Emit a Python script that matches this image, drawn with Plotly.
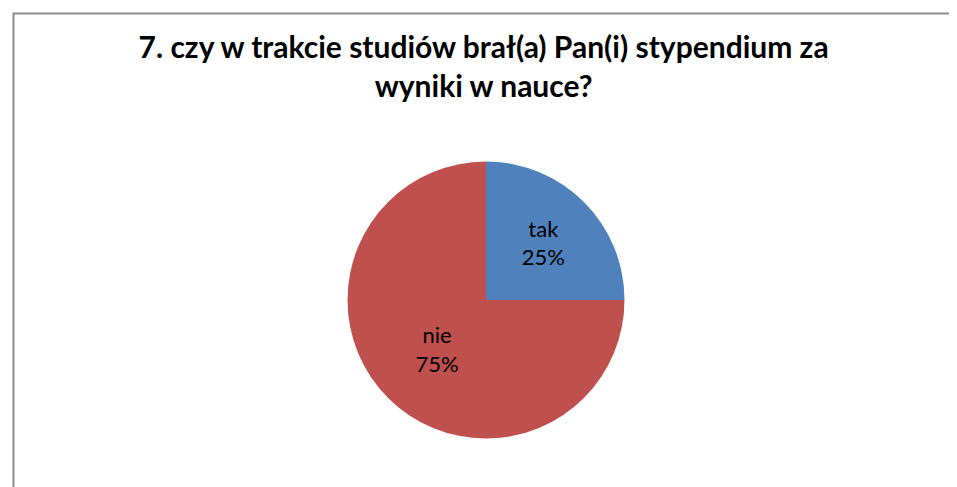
import plotly.graph_objects as go

labels = ["tak", "nie"]
values = [25, 75]
colors = ["#4F81BD", "#C0504D"]
title_text = "7. czy w trakcie studiów brał(a) Pan(i) stypendium za<br>wyniki w nauce?"

W, H = 957, 487

fig = go.Figure(go.Pie(
    labels=labels,
    values=values,
    sort=False,
    direction="clockwise",
    rotation=0,
    marker=dict(colors=colors, line=dict(width=0)),
    texttemplate="%{label}<br>%{percent:.0%}",
    textposition="inside",
    insidetextorientation="horizontal",
    textfont=dict(family="Lato, Carlito, Calibri, sans-serif", size=22, color="black"),
    showlegend=False,
    hoverinfo="label+percent",
    domain=dict(x=[339.5 / W, 616.5 / W], y=[56.5 / H, 333.5 / H]),
))

fig.update_layout(
    width=W, height=H,
    margin=dict(l=0, r=0, t=0, b=0),
    paper_bgcolor="white",
    title=dict(
        text=title_text,
        x=0.497, xanchor="center",
        y=1 - 50 / H, yanchor="top",
        font=dict(family="Lato, Carlito, Calibri, sans-serif", size=30, color="black"),
    ),
    shapes=[dict(
        type="rect", xref="paper", yref="paper",
        x0=5.5 / W, x1=1.05, y0=-0.05, y1=1 - 5.5 / H,
        line=dict(color="#8C8C8C", width=2),
        fillcolor="rgba(0,0,0,0)",
    )],
)
fig.update_layout(title_font_weight="bold")

fig.write_html("out.html")
